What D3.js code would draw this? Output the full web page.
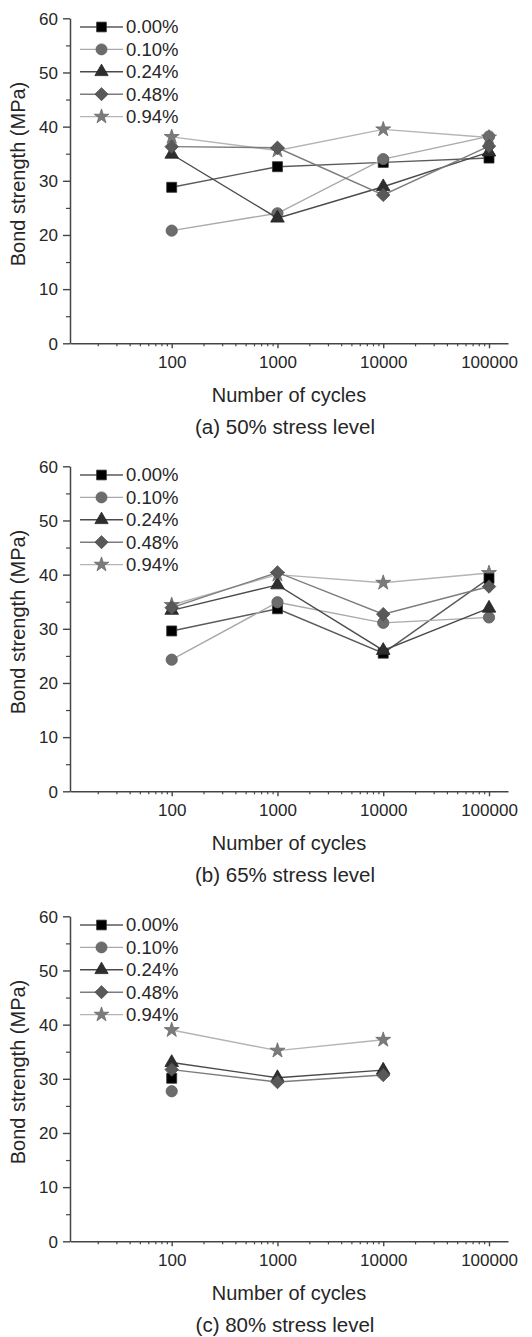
<!DOCTYPE html>
<html>
<head>
<meta charset="utf-8">
<script src="https://cdn.jsdelivr.net/npm/d3@7/dist/d3.min.js"></script>
<style>
  html, body { margin: 0; padding: 0; background: #fff; }
  svg { display: block; font-family: Arial, "Liberation Sans", Helvetica, sans-serif; }
</style>
</head>
<body>
<svg id="chart" width="532" height="1337"></svg>
<script>
// Fibre contents (legend entries) and load cycles
const fibreLabels = ["0.00%", "0.10%", "0.24%", "0.48%", "0.94%"];
const cycles = [100, 1000, 10000, 100000];
const cycleTicks = [100, 1000, 10000, 100000];
const strengthTicks = [0, 10, 20, 30, 40, 50, 60];

// Bond strength (MPa) per fibre content, one row per legend entry
const stress50 = [
  [28.8, 32.6, 33.4, 34.2],
  [20.8, 24.0, 34.0, 38.2],
  [34.9, 23.1, 28.9, 35.3],
  [36.3, 36.1, 27.4, 36.4],
  [38.1, 35.6, 39.5, 38.0]
];
const stress65 = [
  [29.6, 33.7, 25.5, 39.3],
  [24.3, 34.9, 31.1, 32.1],
  [33.4, 38.1, 26.0, 33.8],
  [33.9, 40.4, 32.7, 37.8],
  [34.4, 40.0, 38.5, 40.3]
];
const stress80 = [
  [30.1, null, null, null],
  [27.7, null, null, null],
  [33.0, 30.2, 31.6, null],
  [31.7, 29.4, 30.7, null],
  [39.0, 35.2, 37.2, null]
];
const captions = ["(a) 50% stress level", "(b) 65% stress level", "(c) 80% stress level"];
const panelData = [stress50, stress65, stress80];

// Marker and line styling per fibre content
const lineColors = ["#5a5a5a", "#a9a9a9", "#4a4a4a", "#7c7c7c", "#b4b4b4"];
const fillColors = ["#000000", "#6c6c6c", "#2e2e2e", "#595959", "#7b7b7b"];
const strokeColors = ["#333333", "#5e5e5e", "#222222", "#4a4a4a", "#6a6a6a"];
const symbolTypes = [d3.symbolSquare, d3.symbolCircle, d3.symbolTriangle, d3.symbolSquare, d3.symbolStar];
const symbolSizes = [100, 100, 80, 90, 70];
const symbolRotate = [0, 0, 0, 45, 0];
// drawing order (later on top)
const drawOrder = [4, 0, 1, 2, 3];

const svg = d3.select("#chart");
const textColor = "#262626";
const axisColor = "#454545";

const plotLeft = 70, plotRight = 508, plotTop = 18.3, plotBottom = 343.3;
const panelOffsets = [0, 448, 898];

// log x scale: decades 100..100000 evenly spaced, extended to the plot edges
const xBase = d3.scaleLog().domain([100, 100000]).range([171.7, 489]);
const x = d3.scaleLog().domain([xBase.invert(plotLeft), xBase.invert(plotRight)]).range([plotLeft, plotRight]);
const y = d3.scaleLinear().domain([0, 60]).range([plotBottom, plotTop]);

const minorX = [];
for (let e = 1; e <= 5; e++) {
  for (let m = 2; m <= 9; m++) {
    const v = m * Math.pow(10, e);
    if (v >= x.domain()[0] && v <= x.domain()[1]) minorX.push(v);
  }
}
const minorY = [5, 15, 25, 35, 45, 55];

function symbolPath(i, scale) {
  return d3.symbol().type(symbolTypes[i]).size(symbolSizes[i] * (scale || 1))();
}

panelData.forEach((rows, p) => {
  const g = svg.append("g").attr("transform", `translate(0,${panelOffsets[p]})`);

  // minor x ticks
  g.append("g")
    .attr("transform", `translate(0,${plotBottom})`)
    .call(d3.axisBottom(x).tickValues(minorX).tickSize(3).tickFormat("").tickSizeOuter(0))
    .call(a => a.select(".domain").remove())
    .call(a => a.selectAll("line").attr("stroke", axisColor).attr("stroke-width", 1.2));

  // major x axis
  g.append("g")
    .attr("transform", `translate(0,${plotBottom})`)
    .call(d3.axisBottom(x).tickValues(cycleTicks).tickSize(5).tickSizeOuter(0).tickFormat(d3.format("d")))
    .call(a => a.select(".domain").attr("stroke", axisColor).attr("stroke-width", 1.5))
    .call(a => a.selectAll("line").attr("stroke", axisColor).attr("stroke-width", 1.4))
    .call(a => a.selectAll("text").attr("fill", textColor).attr("font-size", 17)
      .attr("font-family", "Arial, 'Liberation Sans', sans-serif").attr("dy", "0").attr("y", 25));

  // minor y ticks
  g.append("g")
    .attr("transform", `translate(${plotLeft},0)`)
    .call(d3.axisLeft(y).tickValues(minorY).tickSize(4).tickFormat("").tickSizeOuter(0))
    .call(a => a.select(".domain").remove())
    .call(a => a.selectAll("line").attr("stroke", axisColor).attr("stroke-width", 1.2));

  // major y axis
  g.append("g")
    .attr("transform", `translate(${plotLeft},0)`)
    .call(d3.axisLeft(y).tickValues(strengthTicks).tickSize(7).tickSizeOuter(0))
    .call(a => a.select(".domain").attr("stroke", axisColor).attr("stroke-width", 1.5))
    .call(a => a.selectAll("line").attr("stroke", axisColor).attr("stroke-width", 1.4))
    .call(a => a.selectAll("text").attr("fill", textColor).attr("font-size", 17)
      .attr("font-family", "Arial, 'Liberation Sans', sans-serif").attr("x", -12).attr("dy", "0.34em"));

  // axis titles and caption
  g.append("text")
    .attr("x", 289).attr("y", 402)
    .attr("text-anchor", "middle").attr("font-size", 20).attr("fill", textColor)
    .text("Number of cycles");
  g.append("text")
    .attr("transform", `translate(25,174) rotate(-90)`)
    .attr("text-anchor", "middle").attr("font-size", 20).attr("fill", textColor)
    .text("Bond strength (MPa)");
  g.append("text")
    .attr("x", 285).attr("y", 434)
    .attr("text-anchor", "middle").attr("font-size", 20.5).attr("fill", textColor)
    .text(captions[p]);

  // series lines and markers
  const line = d3.line()
    .defined(d => d.v != null)
    .x(d => x(d.c)).y(d => y(d.v));

  drawOrder.forEach(i => {
    const pts = cycles.map((c, k) => ({ c, v: rows[i][k] }));
    const sg = g.append("g");
    sg.append("path")
      .datum(pts)
      .attr("d", line)
      .attr("fill", "none")
      .attr("stroke", lineColors[i])
      .attr("stroke-width", 1.4);
    sg.selectAll("path.mark")
      .data(pts.filter(d => d.v != null))
      .join("path")
      .attr("class", "mark")
      .attr("d", symbolPath(i))
      .attr("transform", d => `translate(${x(d.c)},${y(d.v)}) rotate(${symbolRotate[i]})`)
      .attr("fill", fillColors[i])
      .attr("stroke", strokeColors[i])
      .attr("stroke-width", 0.8);
  });

  // legend
  const lg = g.append("g");
  fibreLabels.forEach((lab, i) => {
    const ly = 27 + i * 22.4;
    lg.append("line")
      .attr("x1", 80).attr("x2", 123).attr("y1", ly).attr("y2", ly)
      .attr("stroke", lineColors[i]).attr("stroke-width", 1.4);
    lg.append("path")
      .attr("d", symbolPath(i, 0.95))
      .attr("transform", `translate(101.5,${ly}) rotate(${symbolRotate[i]})`)
      .attr("fill", fillColors[i])
      .attr("stroke", strokeColors[i])
      .attr("stroke-width", 0.8);
    lg.append("text")
      .attr("x", 126).attr("y", ly).attr("dy", "0.35em")
      .attr("font-size", 18.5).attr("fill", textColor)
      .text(lab);
  });
});
</script>
</body>
</html>
